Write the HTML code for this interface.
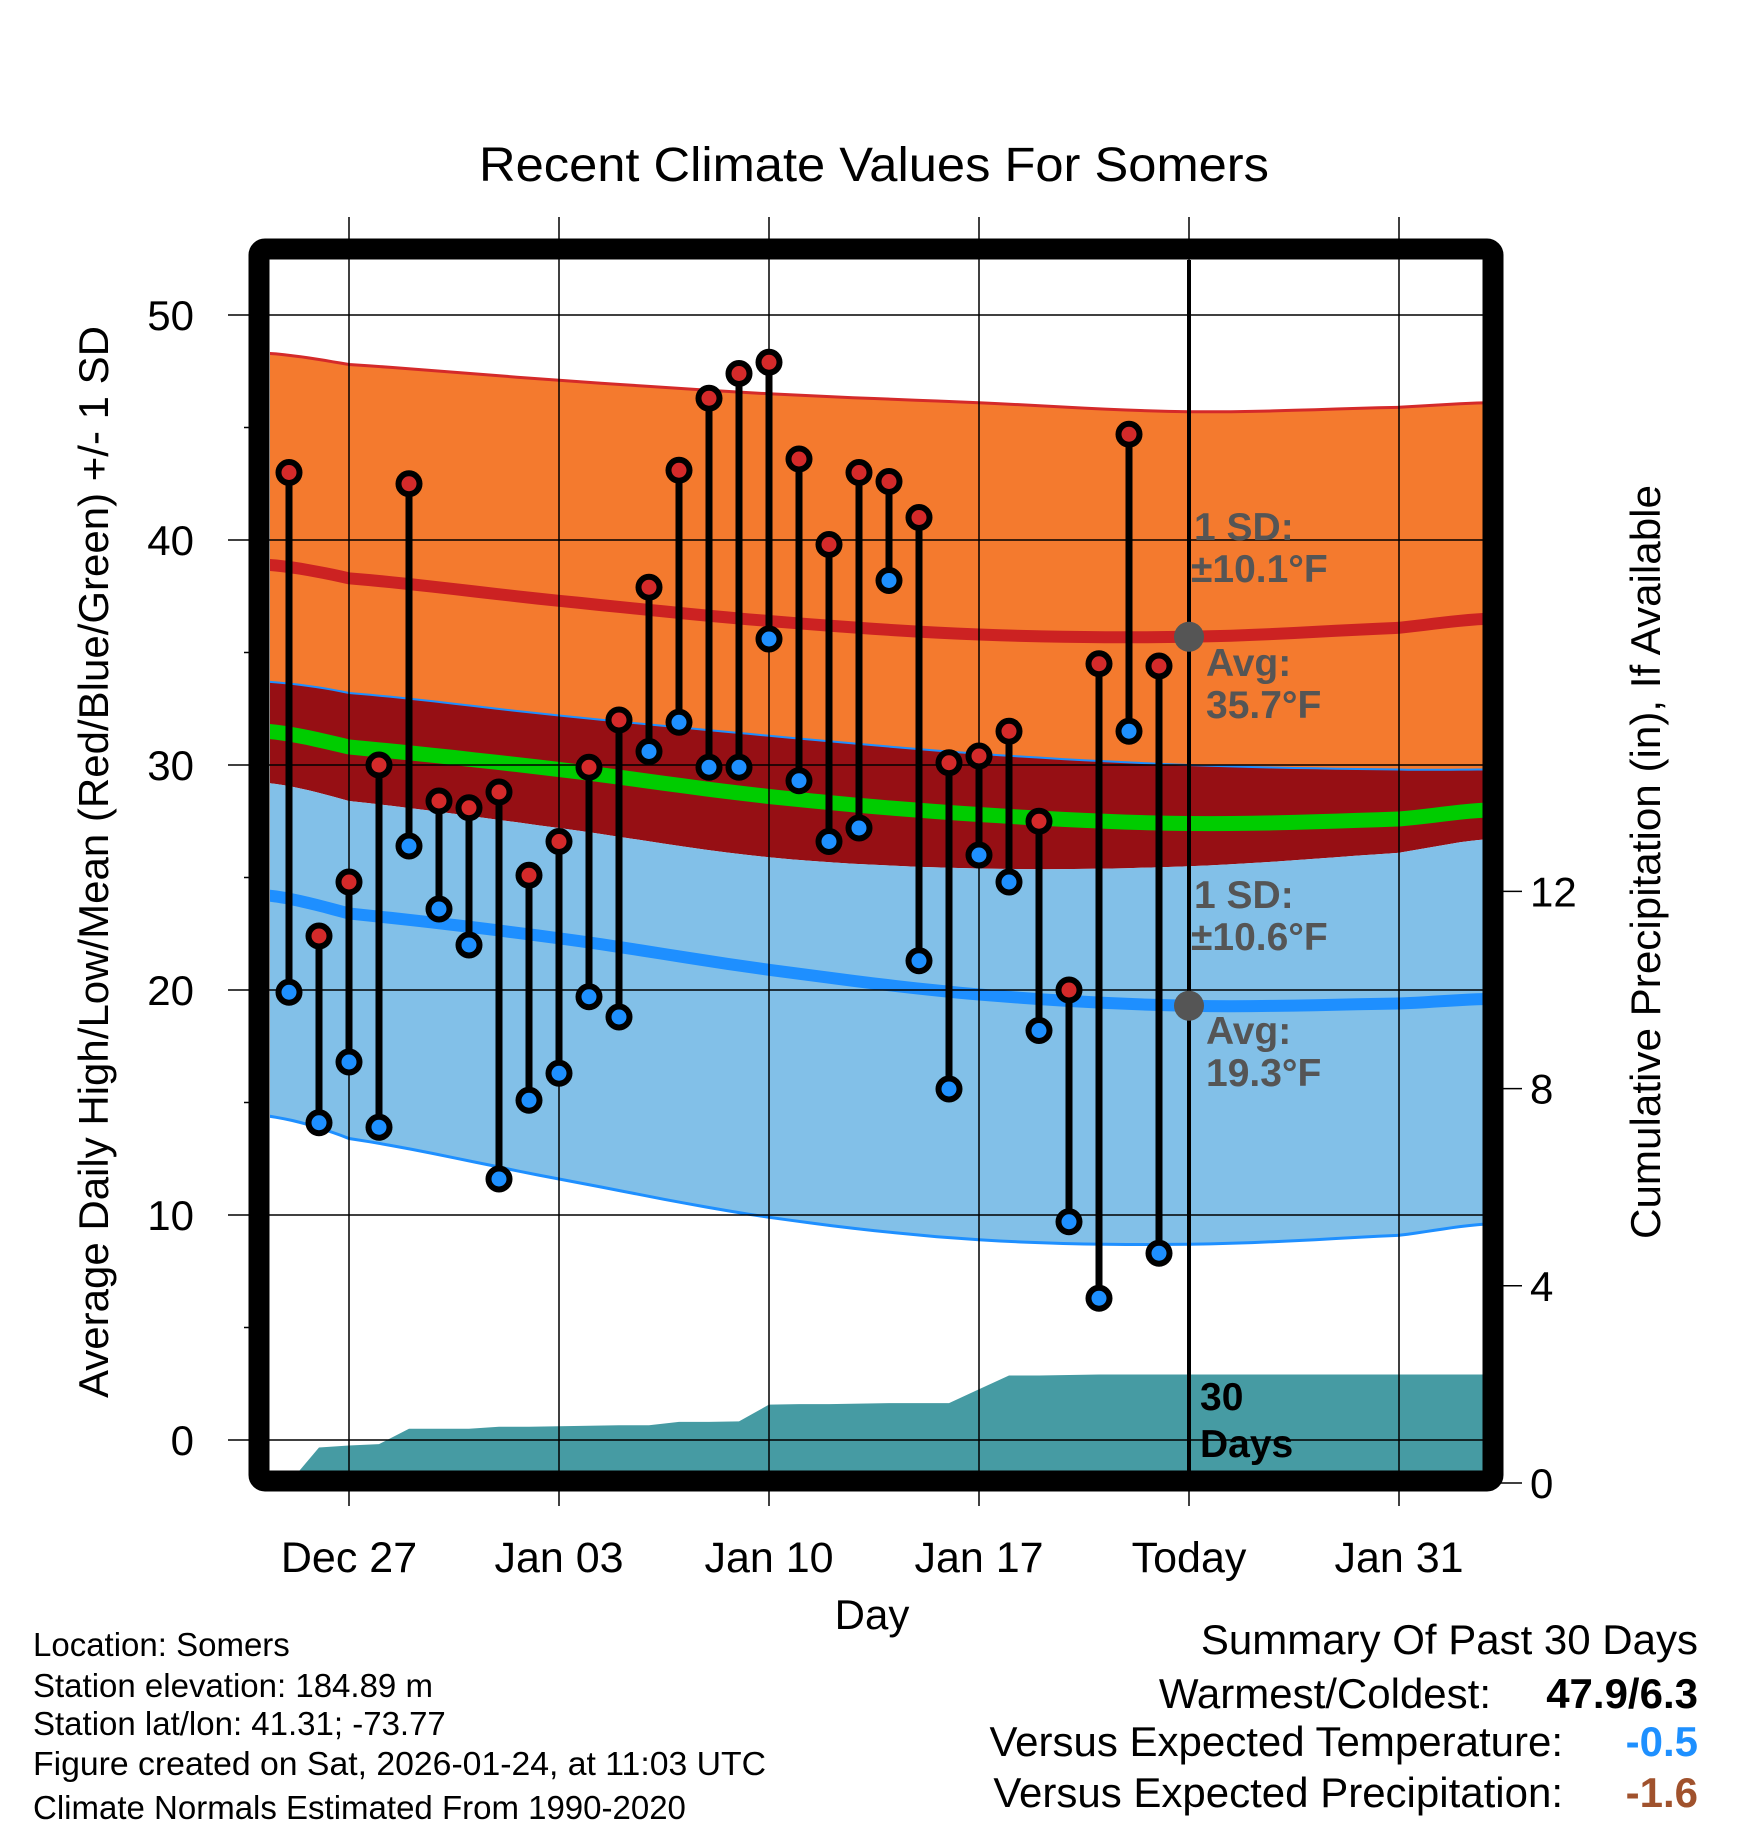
<!DOCTYPE html>
<html><head><meta charset="utf-8"><style>
body{margin:0;background:#fff}
svg text{font-family:"Liberation Sans",Arial,sans-serif}
</style></head><body>
<svg id="chart" width="1748" height="1828" viewBox="0 0 1748 1828" xmlns="http://www.w3.org/2000/svg">
<defs><clipPath id="plotclip"><rect x="270" y="260" width="1213" height="1211"/></clipPath></defs>
<text x="874" y="181" font-size="48" text-anchor="middle" textLength="790" lengthAdjust="spacingAndGlyphs">Recent Climate Values For Somers</text>
<g id="bands" clip-path="url(#plotclip)"></g>
<g id="grid"></g>
<g id="marks" clip-path="url(#plotclip)"></g>
<g id="axes"></g>
<rect x="259" y="249" width="1234" height="1232" rx="6" fill="none" stroke="#000" stroke-width="21"/>
<g id="annot" font-weight="bold" font-size="39" fill="#555">
<text x="1194" y="540">1 SD:</text>
<text x="1191" y="582">±10.1°F</text>
<text x="1206" y="676">Avg:</text>
<text x="1206" y="718">35.7°F</text>
<text x="1194" y="908">1 SD:</text>
<text x="1191" y="950">±10.6°F</text>
<text x="1206" y="1044">Avg:</text>
<text x="1206" y="1086">19.3°F</text>
<text x="1200" y="1410" fill="#000">30</text>
<text x="1200" y="1457" fill="#000">Days</text>
</g>
<text transform="translate(108,862) rotate(-90)" font-size="42" text-anchor="middle" textLength="1072" lengthAdjust="spacingAndGlyphs">Average Daily High/Low/Mean (Red/Blue/Green) +/- 1 SD</text>
<text transform="translate(1660,862) rotate(-90)" font-size="42" text-anchor="middle" textLength="754" lengthAdjust="spacingAndGlyphs">Cumulative Precipitation (in), If Available</text>
<text x="872" y="1629" font-size="42" text-anchor="middle">Day</text>
<g font-size="33">
<text x="33" y="1656">Location: Somers</text>
<text x="33" y="1697">Station elevation: 184.89 m</text>
<text x="33" y="1735">Station lat/lon: 41.31; -73.77</text>
<text x="33" y="1775" textLength="733" lengthAdjust="spacingAndGlyphs">Figure created on Sat, 2026-01-24, at 11:03 UTC</text>
<text x="33" y="1819">Climate Normals Estimated From 1990-2020</text>
</g>
<g font-size="42" text-anchor="end">
<text x="1698" y="1654">Summary Of Past 30 Days</text>
<text x="1491" y="1708">Warmest/Coldest:</text>
<text x="1698" y="1708" font-weight="bold">47.9/6.3</text>
<text x="1563" y="1756">Versus Expected Temperature:</text>
<text x="1698" y="1756" font-weight="bold" fill="#1e90ff">-0.5</text>
<text x="1563" y="1807">Versus Expected Precipitation:</text>
<text x="1698" y="1807" font-weight="bold" fill="#a0522d">-1.6</text>
</g>
</svg>
<script>
// Days measured from Dec 27 (0)
const dayLabels=["Dec 27","Jan 03","Jan 10","Jan 17","Today","Jan 31"];
const dayTicks=[0,7,14,21,28,35];
const yTicks=[0,10,20,30,40,50];
const y2Ticks=[0,4,8,12];
const obsDays=[-2,-1,0,1,2,3,4,5,6,7,8,9,10,11,12,13,14,15,16,17,18,19,20,21,22,23,24,25,26,27];
const highs=[43,22.4,24.8,30,42.5,28.4,28.1,28.8,25.1,26.6,29.9,32,37.9,43.1,46.3,47.4,47.9,43.6,39.8,43,42.6,41,30.1,30.4,31.5,27.5,20,34.5,44.7,34.4];
const lows=[19.9,14.1,16.8,13.9,26.4,23.6,22,11.6,15.1,16.3,19.7,18.8,30.6,31.9,29.9,29.9,35.6,29.3,26.6,27.2,38.2,21.3,15.6,26,24.8,18.2,9.7,6.3,31.5,8.3];
const precip=[0,0.72,0.76,0.79,1.1,1.1,1.1,1.14,1.14,1.15,1.16,1.17,1.17,1.24,1.24,1.25,1.59,1.6,1.6,1.61,1.62,1.62,1.62,1.9,2.18,2.18,2.19,2.2,2.2,2.2];
const normDays=[-2.7,0,7,14,21,28,35,37.9];
const highPlusSD=[48.3,47.8,47.1,46.5,46.1,45.7,45.9,46.1];
const highMean=[38.9,38.3,37.3,36.4,35.8,35.7,36.1,36.5];
const highMinusSD=[33.7,33.2,32.2,31.3,30.5,30.0,29.8,29.8];
const meanT=[31.5,30.8,29.8,28.6,27.8,27.4,27.6,28.0];
const lowPlusSD=[29.2,28.4,27.2,25.9,25.4,25.5,26.1,26.7];
const lowMean=[24.2,23.4,22.3,20.9,19.8,19.3,19.4,19.6];
const lowMinusSD=[14.4,13.4,11.6,9.9,8.9,8.7,9.1,9.6];
const todayDay=28;

const NS="http://www.w3.org/2000/svg";
const X=d=>349+30*d;
const Y=v=>1440-22.5*v;
const Y2=p=>1483-49.3*p;
function mk(parent,tag,attrs){const e=document.createElementNS(NS,tag);for(const k in attrs)e.setAttribute(k,attrs[k]);document.getElementById(parent).appendChild(e);return e;}
function sample(arr){const pts=[];const n=normDays.length;
 for(let i=0;i<n-1;i++){const p0=arr[Math.max(i-1,0)],p1=arr[i],p2=arr[i+1],p3=arr[Math.min(i+2,n-1)];
  for(let s=0;s<10;s++){const t=s/10;const v=0.5*((2*p1)+(-p0+p2)*t+(2*p0-5*p1+4*p2-p3)*t*t+(-p0+3*p1-3*p2+p3)*t*t*t);
   pts.push([X(normDays[i]+(normDays[i+1]-normDays[i])*t),Y(v)]);}}
 pts.push([X(normDays[n-1]),Y(arr[n-1])]);return pts;}
const line=p=>p.map((q,i)=>(i?'L':'M')+q[0].toFixed(1)+','+q[1].toFixed(1)).join(' ');
function band(top,bot){const a=sample(top),b=sample(bot).reverse();return line(a)+' '+b.map(q=>'L'+q[0].toFixed(1)+','+q[1].toFixed(1)).join(' ')+' Z';}
let e;
e=mk('bands','path',{d:band(highPlusSD,highMinusSD),fill:'#f47a2e'});


e=mk('bands','path',{d:band(highMinusSD,lowPlusSD),fill:'#960f14'});


e=mk('bands','path',{d:band(lowPlusSD,lowMinusSD),fill:'#82c0e8'});


e=mk('bands','path',{d:line(sample(highPlusSD)),fill:'none',stroke:'#d42a2a','stroke-width':3});


e=mk('bands','path',{d:line(sample(highMinusSD)),fill:'none',stroke:'#1e8fff','stroke-width':2});


e=mk('bands','path',{d:line(sample(lowMinusSD)),fill:'none',stroke:'#1e8fff','stroke-width':3});


e=mk('bands','path',{d:line(sample(meanT)),fill:'none',stroke:'#00cc00','stroke-width':15});


e=mk('bands','path',{d:line(sample(highMean)),fill:'none',stroke:'#cc2222','stroke-width':12});


e=mk('bands','path',{d:line(sample(lowMean)),fill:'none',stroke:'#1e8fff','stroke-width':12});


let pd='M'+X(obsDays[0])+','+Y2(0);
precip.forEach((p,i)=>{pd+=' L'+X(obsDays[i])+','+Y2(p).toFixed(1);});
pd+=' L1486,'+Y2(precip[precip.length-1]).toFixed(1)+' L1486,'+Y2(0)+' Z';
e=mk('bands','path',{d:pd,fill:'#469ba3'});


dayTicks.forEach((d,i)=>{
 e=mk('grid','line',{x1:X(d),x2:X(d),y1:217,y2:1506,stroke:'#000','stroke-width':1.5});
 
 
 e=mk('axes','text',{x:X(d),y:1572,'font-size':43,'text-anchor':'middle'});
 e.textContent=dayLabels[i];
 
 
});
yTicks.forEach(v=>{
 e=mk('grid','line',{x1:228,x2:1493,y1:Y(v),y2:Y(v),stroke:'#000','stroke-width':1.5});
 
 
 e=mk('axes','text',{x:194,y:Y(v)+15,'font-size':42,'text-anchor':'end'});
 e.textContent=v;
 
 
 if(v<50){e=mk('grid','line',{x1:244,x2:260,y1:Y(v+5),y2:Y(v+5),stroke:'#000','stroke-width':1.5});
 
 }
});
y2Ticks.forEach(p=>{
 e=mk('axes','line',{x1:1493,x2:1522,y1:Y2(p),y2:Y2(p),stroke:'#000','stroke-width':1.5});
 
 
 e=mk('axes','text',{x:1530,y:Y2(p)+15,'font-size':42});
 e.textContent=p;
 
 
});
obsDays.forEach((d,i)=>{
 e=mk('marks','line',{x1:X(d),x2:X(d),y1:Y(highs[i]),y2:Y(lows[i]),stroke:'#000','stroke-width':7});
 
 
});
e=mk('marks','line',{x1:X(todayDay),x2:X(todayDay),y1:255,y2:1475,stroke:'#000','stroke-width':4});


obsDays.forEach((d,i)=>{
 e=mk('marks','circle',{cx:X(d),cy:Y(highs[i]),r:10.5,fill:'#d42a2a',stroke:'#000','stroke-width':6});
 
 
 e=mk('marks','circle',{cx:X(d),cy:Y(lows[i]),r:10.5,fill:'#1e90ff',stroke:'#000','stroke-width':6});
 
 
});
e=mk('marks','circle',{cx:X(todayDay),cy:Y(highMean[5]),r:15,fill:'#555'});


e=mk('marks','circle',{cx:X(todayDay),cy:Y(lowMean[5]),r:15,fill:'#555'});


</script>
</body></html>
